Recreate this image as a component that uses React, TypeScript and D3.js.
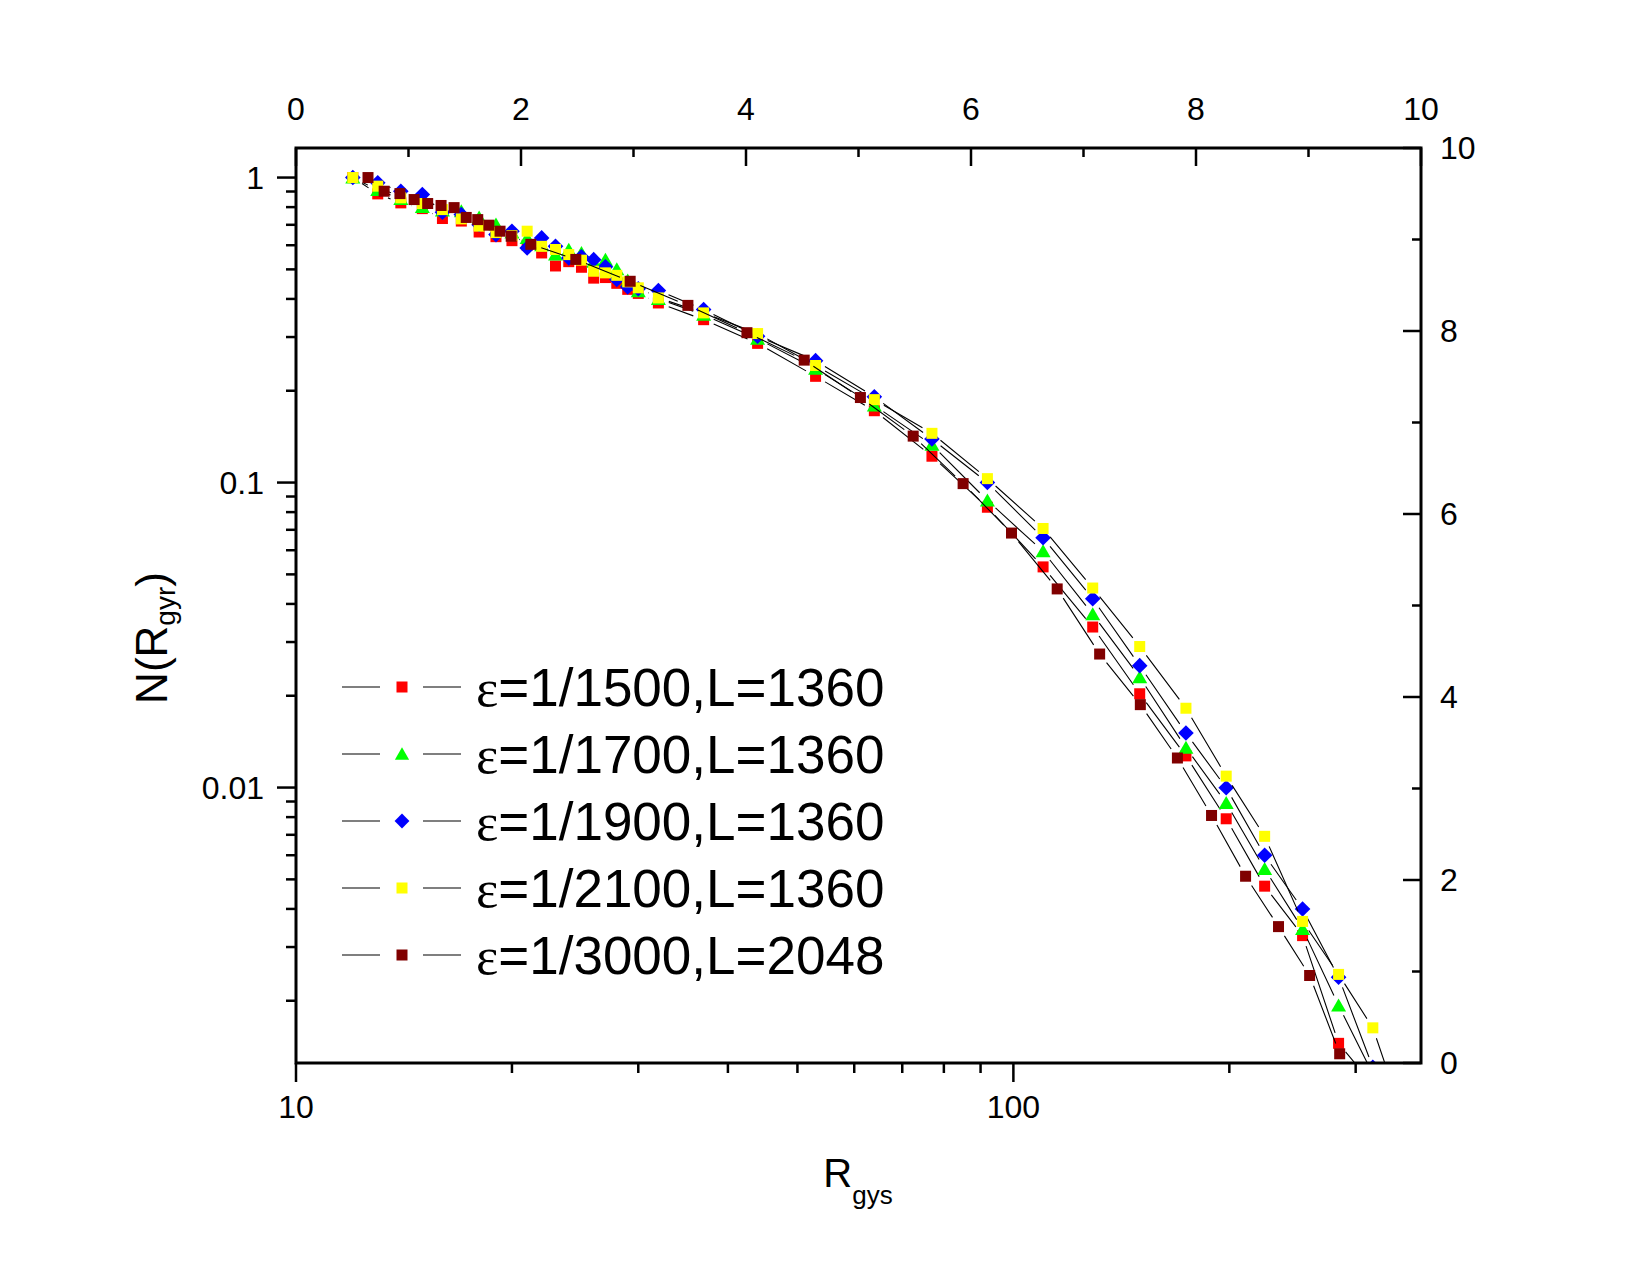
import * as d3 from 'd3';

// grid of R values shared by the four L=1360 runs
const xGrid1360 = [12, 13, 14, 15, 16, 17, 18, 19, 20, 21, 22, 23, 24, 25, 26, 27, 28, 29, 30, 32,
  37, 44, 53, 64, 77, 92, 110, 129, 150, 174, 198, 224, 253, 284, 317, 352];

const yE1500 = [1.0, 0.884, 0.826, 0.791, 0.734, 0.72, 0.663, 0.64, 0.621, 0.6, 0.566, 0.513, 0.53, 0.508,
  0.468, 0.47, 0.45, 0.43, 0.417, 0.388, 0.342, 0.286, 0.223, 0.172, 0.122, 0.083, 0.0529, 0.0336, 0.0203,
  0.0127, 0.0079, 0.00475, 0.00327, 0.00145, 0.00106];

const yE1700 = [1.0, 0.91, 0.851, 0.801, 0.78, 0.776, 0.74, 0.701, 0.66, 0.634, 0.6, 0.559, 0.58, 0.566,
  0.53, 0.538, 0.5, 0.46, 0.424, 0.4, 0.355, 0.296, 0.236, 0.179, 0.133, 0.0873, 0.0595, 0.037, 0.023,
  0.0135, 0.0089, 0.00541, 0.00344, 0.00193, 0.00115];

const yE1900 = [1.0, 0.961, 0.902, 0.88, 0.77, 0.756, 0.7, 0.65, 0.667, 0.588, 0.634, 0.595, 0.545, 0.55,
  0.538, 0.51, 0.463, 0.438, 0.432, 0.426, 0.369, 0.302, 0.251, 0.191, 0.139, 0.1, 0.0659, 0.0416, 0.0251,
  0.0151, 0.00998, 0.006, 0.004, 0.00239, 0.00121];

const yE2100 = [1.0, 0.937, 0.858, 0.822, 0.785, 0.732, 0.693, 0.66, 0.645, 0.667, 0.595, 0.581, 0.559,
  0.536, 0.493, 0.487, 0.478, 0.455, 0.435, 0.403, 0.36, 0.308, 0.242, 0.187, 0.145, 0.103, 0.0707, 0.0451,
  0.029, 0.0182, 0.0109, 0.00692, 0.00364, 0.00244, 0.00163, 0.00079];

// L=2048 run has its own R values
const xE3000 = [12.6, 13.27, 13.96, 14.61, 15.26, 15.93, 16.61, 17.27, 17.92, 18.57, 19.25, 19.95, 21.25,
  24.55, 29.23, 35.18, 42.52, 51.1, 61.2, 72.5, 85.1, 99.4, 115.1, 131.9, 150.3, 169.3, 188.9, 210.7, 234.2,
  258.8, 285, 316.7];
const yE3000 = [1.0, 0.902, 0.886, 0.847, 0.822, 0.81, 0.797, 0.74, 0.728, 0.698, 0.667, 0.642, 0.604,
  0.539, 0.457, 0.381, 0.31, 0.252, 0.19, 0.142, 0.0992, 0.0683, 0.0448, 0.0274, 0.0187, 0.0125, 0.0081,
  0.00512, 0.0035, 0.00242, 0.00134, 0.001];

const legendLabels = ['1/1500,L=1360', '1/1700,L=1360', '1/1900,L=1360', '1/2100,L=1360', '1/3000,L=2048'];
const topTicks = [0, 2, 4, 6, 8, 10];
const rightTicks = [0, 2, 4, 6, 8, 10];

type Shape = 'square' | 'triangle' | 'diamond';

const series: { xs: number[]; ys: number[]; color: string; shape: Shape }[] = [
  { xs: xGrid1360, ys: yE1500, color: '#ff0000', shape: 'square' },
  { xs: xGrid1360, ys: yE1700, color: '#00ff00', shape: 'triangle' },
  { xs: xGrid1360, ys: yE1900, color: '#0000ff', shape: 'diamond' },
  { xs: xGrid1360, ys: yE2100, color: '#ffff00', shape: 'square' },
  { xs: xE3000, ys: yE3000, color: '#800000', shape: 'square' },
];

const FONT = '"Liberation Sans", Arial, sans-serif';

function Marker({ cx, cy, shape, color, k = 1 }: { cx: number; cy: number; shape: Shape; color: string; k?: number }) {
  if (shape === 'square') {
    const s = 11 * k;
    return <rect x={cx - s / 2} y={cy - s / 2} width={s} height={s} fill={color} />;
  }
  if (shape === 'triangle') {
    const w = 7.5 * k;
    return <polygon points={`${cx},${cy - 7 * k} ${cx + w},${cy + 6 * k} ${cx - w},${cy + 6 * k}`} fill={color} />;
  }
  const r = 7.8 * k;
  return <polygon points={`${cx},${cy - r} ${cx + r},${cy} ${cx},${cy + r} ${cx - r},${cy}`} fill={color} />;
}

export default function App() {
  const W = 1650, H = 1275;
  const L = 296, R = 1421, T = 148, B = 1063;

  const x = d3.scaleLog().domain([10, 370]).range([L, R]);
  const y = d3.scaleLog().domain([0.00125, 1.25]).range([B, T]);
  const xTop = d3.scaleLinear().domain([0, 10]).range([L, R]);
  const yRight = d3.scaleLinear().domain([0, 10]).range([B, T]);

  const isMajor = (v: number) => Math.abs(Math.log10(v) - Math.round(Math.log10(v))) < 1e-6;

  // Origin-style connecting lines: leave a gap around each symbol
  const gap = 11;
  const linePath = (xs: number[], ys: number[]) => {
    const pts = ys.map((v, i) => [x(xs[i]), y(v)]);
    let d = '';
    for (let i = 0; i < pts.length - 1; i++) {
      const [x0, y0] = pts[i];
      const [x1, y1] = pts[i + 1];
      const len = Math.hypot(x1 - x0, y1 - y0);
      if (len <= gap * 2) continue;
      const ux = (x1 - x0) / len, uy = (y1 - y0) / len;
      d += `M${x0 + ux * gap},${y0 + uy * gap}L${x1 - ux * gap},${y1 - uy * gap}`;
    }
    return d;
  };

  const legendY = d3.range(legendLabels.length).map(i => 687 + i * 67);

  return (
    <svg width={W} height={H} style={{ position: 'absolute', left: 0, top: 0, background: '#fff' }} fontFamily={FONT}>
      <rect width={W} height={H} fill="#fff" />
      <defs>
        <clipPath id="plot">
          <rect x={L} y={T} width={R - L} height={B - T} />
        </clipPath>
      </defs>

      <g clipPath="url(#plot)">
        {series.map((s, si) => (
          <g key={si}>
            <path d={linePath(s.xs, s.ys)} fill="none" stroke="#000" strokeWidth={1.1} />
            {s.ys.map((v, i) => (
              <Marker key={i} cx={x(s.xs[i])} cy={y(v)} shape={s.shape} color={s.color} />
            ))}
          </g>
        ))}
      </g>

      {/* bottom log axis */}
      {x.ticks().map((t, i) => (
        <line key={'bx' + i} x1={x(t)} x2={x(t)} y1={B} y2={B + (isMajor(t) ? 19 : 10)} stroke="#000" strokeWidth={2.5} />
      ))}
      {x.ticks().filter(isMajor).map((t, i) => (
        <text key={'bl' + i} x={x(t)} y={1118} textAnchor="middle" fontSize={32}>{t}</text>
      ))}

      {/* left log axis */}
      {y.ticks().map((t, i) => (
        <line key={'ly' + i} x1={L - (isMajor(t) ? 19 : 10)} x2={L} y1={y(t)} y2={y(t)} stroke="#000" strokeWidth={2.5} />
      ))}
      {y.ticks().filter(isMajor).map((t, i) => (
        <text key={'ll' + i} x={264} y={y(t)} dy="0.36em" textAnchor="end" fontSize={32}>{d3.format('~g')(t)}</text>
      ))}

      {/* top linear axis */}
      {d3.range(0, 11).map(t => (
        <line key={'tx' + t} x1={xTop(t)} x2={xTop(t)} y1={T} y2={T + (t % 2 === 0 ? 18 : 9)} stroke="#000" strokeWidth={2.5} />
      ))}
      {topTicks.map(t => (
        <text key={'tl' + t} x={xTop(t)} y={120} textAnchor="middle" fontSize={32}>{t}</text>
      ))}

      {/* right linear axis */}
      {d3.range(0, 11).map(t => (
        <line key={'ry' + t} x1={R - (t % 2 === 0 ? 18 : 9)} x2={R} y1={yRight(t)} y2={yRight(t)} stroke="#000" strokeWidth={2.5} />
      ))}
      {rightTicks.map(t => (
        <text key={'rl' + t} x={1440} y={yRight(t)} dy="0.34em" textAnchor="start" fontSize={32}>{t}</text>
      ))}

      <rect x={L} y={T} width={R - L} height={B - T} fill="none" stroke="#000" strokeWidth={3} />

      {/* axis titles */}
      <text x={858} y={1187} textAnchor="middle" fontSize={40}>
        R<tspan fontSize={26} dy={17}>gys</tspan>
      </text>
      <text transform="translate(167,638) rotate(-90)" textAnchor="middle" fontSize={44}>
        N(R<tspan fontSize={28} dy={8}>gyr</tspan><tspan dy={-8}>)</tspan>
      </text>

      {/* legend */}
      {series.map((s, i) => (
        <g key={'lg' + i}>
          <line x1={342} x2={380} y1={legendY[i]} y2={legendY[i]} stroke="#000" strokeWidth={1.2} />
          <line x1={423} x2={461} y1={legendY[i]} y2={legendY[i]} stroke="#000" strokeWidth={1.2} />
          <Marker cx={402} cy={legendY[i]} shape={s.shape} color={s.color} k={s.shape === 'square' ? 1 : 0.95} />
          <text x={476} y={legendY[i] + 19} fontSize={53}>
            <tspan fontFamily='"Liberation Serif", "Times New Roman", serif'>ε</tspan>={legendLabels[i]}
          </text>
        </g>
      ))}
    </svg>
  );
}
